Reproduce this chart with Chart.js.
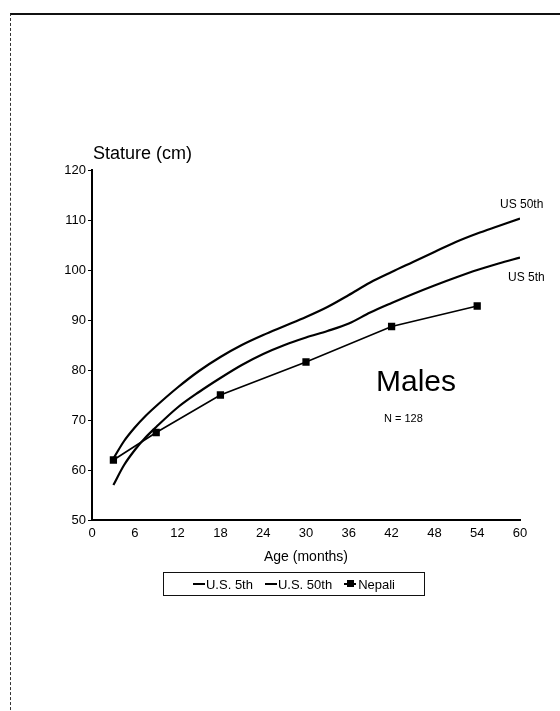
<!DOCTYPE html>
<html>
<head>
<meta charset="utf-8">
<script src="https://cdn.jsdelivr.net/npm/chart.js@4.4.1/dist/chart.umd.min.js"></script>
<style>
  html, body { margin: 0; padding: 0; background: #fff; }
  body { width: 560px; height: 711px; position: relative; overflow: hidden;
         font-family: "Liberation Sans", Arial, sans-serif; color: #000; }
  #frame { position: absolute; left: 10px; top: 13px; width: 560px; height: 720px;
           border-top: 2px solid #111; border-left: 1px dashed #333; }
  #wrap { position: absolute; left: 0; top: 0; width: 560px; height: 711px; }
  .lbl { position: absolute; white-space: nowrap; }
  #legend { position: absolute; left: 163px; top: 572px; width: 260px; height: 22px;
            border: 1.5px solid #111; font-size: 13px; display: flex; align-items: center;
            justify-content: center; gap: 12px; }
  #legend .item { display: flex; align-items: center; }
  #legend .line { display: inline-block; width: 12px; height: 0; border-top: 2px solid #000; margin-right: 1px; }
  #legend .mark { display: inline-block; width: 12px; height: 2px; background: #000; position: relative; margin-right: 2px; }
  #legend .mark:after { content: ""; position: absolute; left: 3px; top: -3px; width: 7px; height: 7px; background: #000; }
</style>
</head>
<body>
<div id="frame"></div>
<div id="wrap"><canvas id="chart" width="560" height="711"></canvas></div>
<div class="lbl" style="left:93px; top:143px; font-size:18px;">Stature (cm)</div>
<div class="lbl" style="left:500px; top:197px; font-size:12px;">US 50th</div>
<div class="lbl" style="left:508px; top:270px; font-size:12px;">US 5th</div>
<div class="lbl" style="left:376px; top:364px; font-size:30px;">Males</div>
<div class="lbl" style="left:384px; top:412px; font-size:11px;">N = 128</div>
<div id="legend"></div>
<script>
const seriesNames = ["U.S. 5th", "U.S. 50th", "Nepali"];

const usMonths = [3, 4.5, 6, 7.5, 9, 12, 15, 18, 21, 24, 27, 30, 33, 36, 39, 42, 45, 48, 51, 54, 57, 60];
const us5th = [57, 61, 64, 66.5, 68.6, 72.5, 75.6, 78.4, 81, 83.2, 85, 86.5, 87.8, 89.3, 91.5, 93.4, 95.2, 96.9, 98.5, 100, 101.3, 102.5];
const us50th = [62.3, 65.8, 68.5, 70.8, 72.8, 76.5, 79.8, 82.6, 85, 87, 88.8, 90.6, 92.6, 95, 97.5, 99.6, 101.6, 103.6, 105.6, 107.3, 108.8, 110.3];

const nepaliMonths = [3, 9, 18, 30, 42, 54];
const nepali = [62, 67.5, 75, 81.6, 88.7, 92.8];

const xTicks = [0, 6, 12, 18, 24, 30, 36, 42, 48, 54, 60];

function pairs(xs, ys) {
    return xs.map((x, i) => ({ x: x, y: ys[i] }));
}

const font = { family: "'Liberation Sans', Arial, sans-serif", size: 13 };

const ctx = document.getElementById("chart").getContext("2d");
new Chart(ctx, {
    type: "line",
    data: {
        datasets: [
            {
                label: seriesNames[0],
                data: pairs(usMonths, us5th),
                borderColor: "#000",
                borderWidth: 2.2,
                pointRadius: 0,
                cubicInterpolationMode: "monotone",
                fill: false
            },
            {
                label: seriesNames[1],
                data: pairs(usMonths, us50th),
                borderColor: "#000",
                borderWidth: 2.2,
                pointRadius: 0,
                cubicInterpolationMode: "monotone",
                fill: false
            },
            {
                label: seriesNames[2],
                data: pairs(nepaliMonths, nepali),
                borderColor: "#000",
                backgroundColor: "#000",
                borderWidth: 1.6,
                pointStyle: "rect",
                pointRadius: 4,
                tension: 0,
                fill: false
            }
        ]
    },
    options: {
        responsive: false,
        animation: false,
        layout: { padding: { left: 52, top: 170, right: 40, bottom: 141 } },
        plugins: { legend: { display: false }, tooltip: { enabled: false } },
        scales: {
            x: {
                type: "linear",
                min: 0,
                max: 60,
                afterBuildTicks: function (scale) {
                    scale.ticks = xTicks.map(v => ({ value: v }));
                },
                afterFit: function (scale) { scale.height = 50; },
                grid: { drawOnChartArea: false, drawTicks: false },
                border: { display: true, color: "#000", width: 2 },
                ticks: { color: "#000", font: font, padding: 6, maxRotation: 0 },
                title: { display: true, text: "Age (months)", color: "#000", font: { family: font.family, size: 14 }, padding: { top: 4 } }
            },
            y: {
                min: 50,
                max: 120,
                afterFit: function (scale) { scale.width = 40; },
                grid: { drawOnChartArea: false, drawTicks: true, tickLength: 4, color: "#000" },
                border: { display: true, color: "#000", width: 2 },
                ticks: { stepSize: 10, color: "#000", font: font, padding: 2 }
            }
        }
    }
});

const legend = document.getElementById("legend");
seriesNames.forEach(function (name, i) {
    const item = document.createElement("span");
    item.className = "item";
    const sym = document.createElement("span");
    sym.className = i === 2 ? "mark" : "line";
    item.appendChild(sym);
    item.appendChild(document.createTextNode(name));
    legend.appendChild(item);
});
</script>
</body>
</html>
